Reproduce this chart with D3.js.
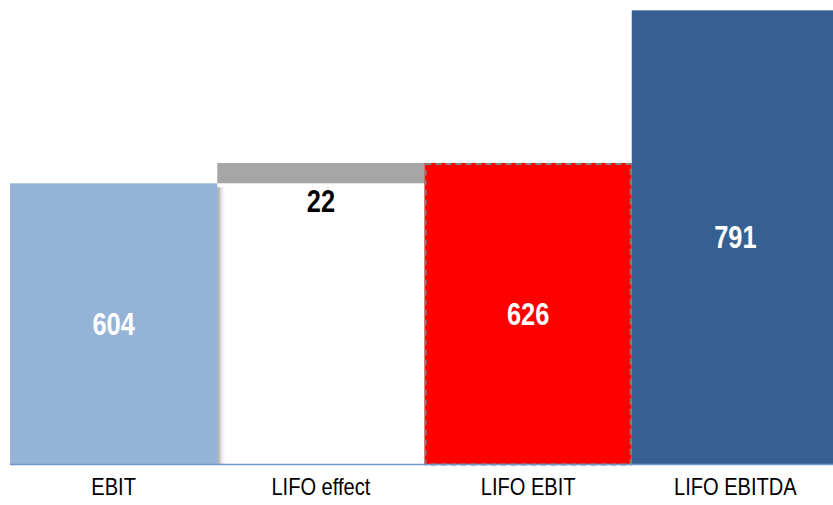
<!DOCTYPE html>
<html>
<head>
<meta charset="utf-8">
<script src="https://cdn.jsdelivr.net/npm/d3@7"></script>
<style>
  body { margin: 0; background: #fff; }
  svg { display: block; }
</style>
</head>
<body>
<div id="chart"></div>
<script>
const categories = ["EBIT", "LIFO effect", "LIFO EBIT", "LIFO EBITDA"];
const starts = [0, 604, 0, 0];
const values = [604, 22, 626, 791];
const labels = ["604", "22", "626", "791"];
const fills = ["#95b3d7", "#a6a6a6", "#ff0000", "#376092"];
const labelColors = ["#ffffff", "#000000", "#ffffff", "#ffffff"];

const width = 833, height = 505;
// no narrow font installed, so squeeze Liberation Sans horizontally
const font = "'Liberation Sans', Arial, sans-serif";
const squeeze = 0.82;

const svg = d3.select("#chart")
  .append("svg")
  .attr("width", width)
  .attr("height", height);

const x = d3.scaleBand()
  .domain(categories)
  .range([10, 839])
  .padding(0);

// axis doesn't start at zero
const y = d3.scaleLinear()
  .domain([300, 800])
  .range([464.5, 2]);

const bottomOf = i => y(Math.max(starts[i], 300));
const topOf = i => y(starts[i] + values[i]);

// soft shadow right of the first bar
const defs = svg.append("defs");
const grad = defs.append("linearGradient").attr("id", "shadow");
grad.append("stop").attr("offset", "0%").attr("stop-color", "#7f7f7f").attr("stop-opacity", 0.8);
grad.append("stop").attr("offset", "100%").attr("stop-color", "#ffffff").attr("stop-opacity", 0);

svg.append("rect")
  .attr("x", x("EBIT") + x.bandwidth())
  .attr("y", topOf(0) + 4)
  .attr("width", 9)
  .attr("height", bottomOf(0) - topOf(0) - 4)
  .attr("fill", "url(#shadow)");

const idx = d3.range(categories.length);

svg.append("g")
  .selectAll("rect")
  .data(idx)
  .join("rect")
  .attr("x", i => x(categories[i]))
  .attr("y", i => topOf(i))
  .attr("width", x.bandwidth())
  .attr("height", i => bottomOf(i) - topOf(i))
  .attr("fill", i => fills[i]);

// dashed outline on LIFO EBIT
svg.append("rect")
  .attr("x", x("LIFO EBIT") + 1)
  .attr("y", topOf(2) + 1)
  .attr("width", x.bandwidth() - 2)
  .attr("height", bottomOf(2) - topOf(2) - 1)
  .attr("fill", "none")
  .attr("stroke", "#808080")
  .attr("stroke-width", 2)
  .attr("stroke-dasharray", "6,4");

// baseline
svg.append("line")
  .attr("x1", 10)
  .attr("x2", width)
  .attr("y1", y(300))
  .attr("y2", y(300))
  .attr("stroke", "#7396cb")
  .attr("stroke-width", 1.5);

// value labels (the small step's label sits under its bar)
const labelY = i => i === 1 ? bottomOf(1) + 28.5 : (topOf(i) + bottomOf(i)) / 2 + 11;

svg.append("g")
  .selectAll("text")
  .data(idx)
  .join("text")
  .attr("transform", i => `translate(${x(categories[i]) + x.bandwidth() / 2},${labelY(i)}) scale(${squeeze},1)`)
  .attr("text-anchor", "middle")
  .style("font-family", font)
  .style("font-weight", "bold")
  .style("font-size", "31px")
  .style("fill", i => labelColors[i])
  .text(i => labels[i]);

// category labels
svg.append("g")
  .selectAll("text")
  .data(categories)
  .join("text")
  .attr("transform", d => `translate(${x(d) + x.bandwidth() / 2},495) scale(${squeeze},1)`)
  .attr("text-anchor", "middle")
  .style("font-family", font)
  .style("font-size", "24.5px")
  .style("fill", "#000")
  .text(d => d);
</script>
</body>
</html>
